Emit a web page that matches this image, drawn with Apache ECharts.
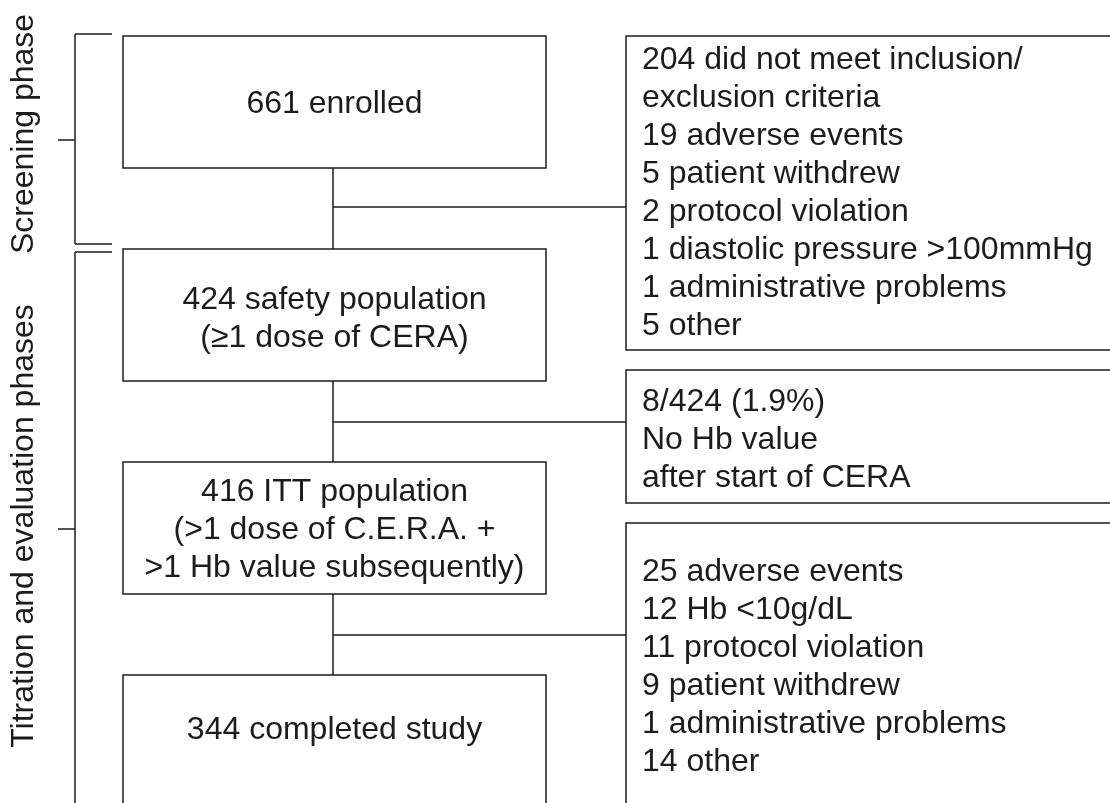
<!DOCTYPE html>
<html>
<head>
<meta charset="utf-8">
<script src="https://cdn.jsdelivr.net/npm/echarts@6/dist/echarts.min.js"></script>
<style>
  html, body { margin: 0; padding: 0; background: #fff; }
  #main { width: 1110px; height: 803px; }
</style>
</head>
<body>
<div id="main"></div>
<script>
// patient flow numbers
const mainCounts = [661, 424, 416, 344]
const mainLabels = [
  'enrolled',
  'safety population\n(≥1 dose of CERA)',
  'ITT population\n(>1 dose of C.E.R.A. +\n>1 Hb value subsequently)',
  'completed study'
]
const screenOutCounts = [204, 19, 5, 2, 1, 1, 5]
const screenOutReasons = [
  'did not meet inclusion/\nexclusion criteria',
  'adverse events',
  'patient withdrew',
  'protocol violation',
  'diastolic pressure >100mmHg',
  'administrative problems',
  'other'
]
const noHbCount = 8
const noHbBase = 424
const noHbPct = '1.9'
const dropOutCounts = [25, 12, 11, 9, 1, 14]
const dropOutReasons = [
  'adverse events',
  'Hb <10g/dL',
  'protocol violation',
  'patient withdrew',
  'administrative problems',
  'other'
]
const phaseLabels = ['Screening phase', 'Titration and evaluation phases']

// layout (axis units = px): [x0, y0, x1, y1, textY]
const mainBoxes = [[123, 36, 546, 168, 104], [123, 249, 546, 381, 319], [123, 462, 546, 594, 530], [123, 675, 546, 850, 730]]
const sideBoxes = [[626, 36, 1130, 350, 41], [626, 370, 1130, 503, 383], [626, 523, 1130, 850, 553]]
// [top, bottom, tickY, labelY, closedBottom]
const phaseBrackets = [[34, 244, 140, 134, true], [252, 850, 529, 526, false]]
const spineX = 333
const bracketX = 75

const FONT = 'Liberation Sans, Arial, Helvetica, sans-serif'
const INK = '#1c1c1c'

const mainTexts = mainCounts.map((c, i) => c + ' ' + mainLabels[i])
const sideTexts = [
  screenOutCounts.map((c, i) => c + ' ' + screenOutReasons[i]).join('\n'),
  noHbCount + '/' + noHbBase + ' (' + noHbPct + '%)\nNo Hb value\nafter start of CERA',
  dropOutCounts.map((c, i) => c + ' ' + dropOutReasons[i]).join('\n')
]

// connector segments built from the boxes
const segs = []
for (let i = 0; i < 3; i++) {
  const yb = mainBoxes[i][3], yt = mainBoxes[i + 1][1]
  const by = Math.round((yb + yt) / 2) - (i === 0 ? 2 : 0)
  segs.push([spineX, yb, spineX, yt])
  segs.push([spineX, by, sideBoxes[i][0], by])
}
phaseBrackets.forEach(b => {
  segs.push([bracketX, b[0], bracketX, b[1]])
  segs.push([bracketX, b[0], 112, b[0]])
  if (b[4]) segs.push([bracketX, b[1], 112, b[1]])
  segs.push([58, b[2], bracketX, b[2]])
})

function boxRender(layout, texts, centered) {
  return function (params, api) {
    const b = layout[params.dataIndex]
    const p0 = api.coord([b[0], b[1]])
    const p1 = api.coord([b[2], b[3]])
    const ty = api.coord([0, b[4]])[1]
    return {
      type: 'group',
      children: [
        {
          type: 'rect',
          shape: { x: p0[0], y: p0[1], width: p1[0] - p0[0], height: p1[1] - p0[1] },
          style: { fill: '#fff', stroke: INK, lineWidth: 1.5 }
        },
        {
          type: 'text',
          style: {
            text: texts[params.dataIndex],
            x: centered ? (p0[0] + p1[0]) / 2 : p0[0] + 16,
            y: ty,
            align: centered ? 'center' : 'left',
            verticalAlign: centered ? 'middle' : 'top',
            fontSize: 32,
            fontFamily: FONT,
            lineHeight: 38,
            fill: INK
          }
        }
      ]
    }
  }
}

const chart = echarts.init(document.getElementById('main'))
chart.setOption({
  animation: false,
  grid: { left: 0, right: 0, top: 0, bottom: 0 },
  xAxis: { type: 'value', min: 0, max: 1110, show: false },
  yAxis: { type: 'value', min: 0, max: 803, inverse: true, show: false },
  series: [
    {
      type: 'custom',
      silent: true,
      data: segs,
      renderItem: (params, api) => {
        const a = api.coord([api.value(0), api.value(1)])
        const b = api.coord([api.value(2), api.value(3)])
        return {
          type: 'line',
          shape: { x1: a[0], y1: a[1], x2: b[0], y2: b[1] },
          style: { stroke: INK, lineWidth: 1.5 }
        }
      }
    },
    {
      type: 'custom',
      silent: true,
      data: mainCounts.map((c, i) => [i, c]),
      renderItem: boxRender(mainBoxes, mainTexts, true)
    },
    {
      type: 'custom',
      silent: true,
      data: sideTexts.map((t, i) => [i, 0]),
      renderItem: boxRender(sideBoxes, sideTexts, false)
    },
    {
      type: 'custom',
      silent: true,
      data: phaseLabels.map((t, i) => [i, 0]),
      renderItem: (params, api) => {
        const b = phaseBrackets[params.dataIndex]
        const p = api.coord([24, b[3]])
        return {
          type: 'text',
          x: p[0],
          y: p[1],
          rotation: Math.PI / 2,
          style: {
            text: phaseLabels[params.dataIndex],
            x: 0,
            y: 0,
            align: 'center',
            verticalAlign: 'middle',
            fontSize: 32,
            fontFamily: FONT,
            fill: INK
          }
        }
      }
    }
  ]
})
</script>
</body>
</html>
